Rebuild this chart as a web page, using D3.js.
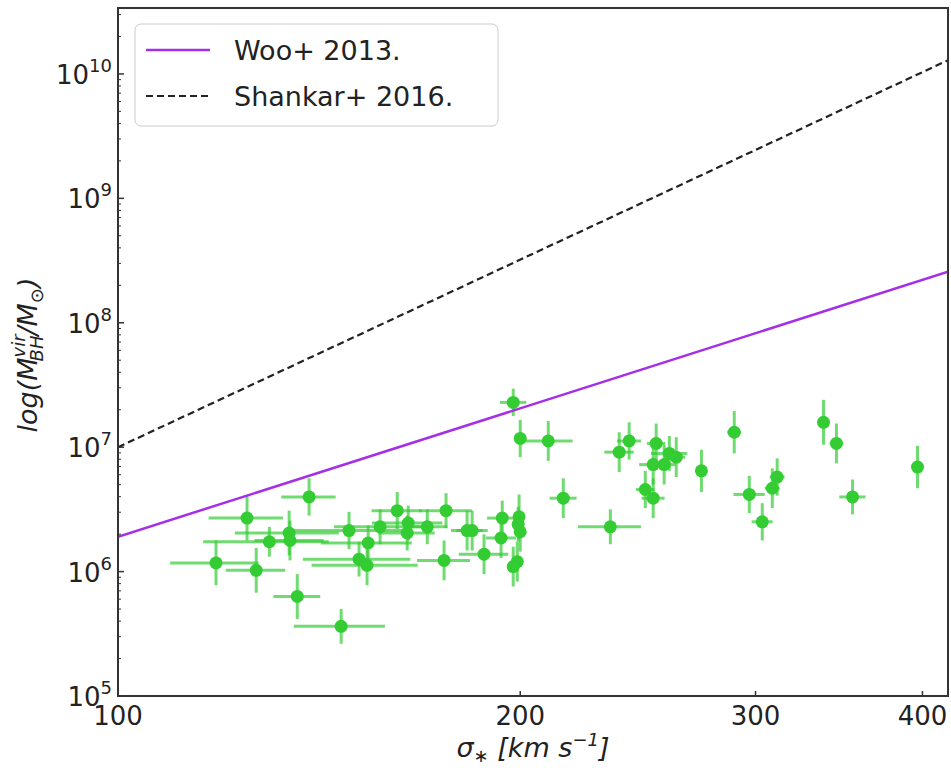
<!DOCTYPE html>
<html>
<head>
  <meta charset="utf-8">
  <script src="https://cdn.jsdelivr.net/npm/d3@7/dist/d3.min.js"></script>
  <style>
    body { margin: 0; background: #fff; font-family: "DejaVu Sans", sans-serif; }
  </style>
</head>
<body>
  <div id="chart"></div>
  <script>
    // measured velocity dispersion (km/s) and its error
    const sigma = [118.4, 124.9, 126.9, 129.8, 134.3, 134.5, 139.0, 136.2, 146.9, 148.9,
      153.9, 157.1, 151.5, 153.6, 161.8, 164.9, 164.6, 170.4, 176.0, 175.4,
      182.5, 184.1, 187.9, 193.9, 193.5, 199.6, 199.3, 200.0, 199.0, 197.6,
      197.6, 200.0, 209.9, 215.4, 233.6, 237.2, 241.3, 252.8, 251.5, 256.3,
      258.6, 261.7, 248.1, 251.5, 273.3, 289.2, 296.8, 303.5, 308.8, 311.4,
      337.3, 344.9, 354.6, 396.6];
    const sigmaErr = [9, 8, 6.5, 14, 12, 8, 6.5, 5.5, 11.5, 15,
      12, 12, 14, 14, 7, 10, 8, 6, 8, 8,
      5, 5, 8, 5, 5, 1.5, 2, 1.5, 2, 2,
      4.5, 1.5, 9, 5, 12.7, 6, 5, 4, 6, 5,
      8, 4, 4, 5, 2, 3.5, 8, 5.5, 4, 4,
      2, 4, 8, 2];
    // log10 of virial black hole mass and its error (dex)
    const logM = [6.07, 6.43, 6.01, 6.24, 6.31, 6.25, 6.60, 5.80, 5.56, 6.33,
      6.23, 6.36, 6.10, 6.05, 6.49, 6.39, 6.31, 6.36, 6.49, 6.09,
      6.33, 6.33, 6.14, 6.43, 6.27, 6.44, 6.38, 6.32, 6.08, 6.04,
      7.36, 7.07, 7.05, 6.59, 6.36, 6.96, 7.05, 7.03, 6.86, 6.86,
      6.95, 6.92, 6.66, 6.59, 6.81, 7.12, 6.62, 6.40, 6.67, 6.76,
      7.20, 7.03, 6.60, 6.84];
    const logMErr = [0.18, 0.18, 0.18, 0.12, 0.18, 0.16, 0.15, 0.18, 0.14, 0.15,
      0.14, 0.14, 0.14, 0.16, 0.15, 0.14, 0.14, 0.14, 0.14, 0.16,
      0.16, 0.16, 0.16, 0.14, 0.16, 0.18, 0.14, 0.16, 0.16, 0.16,
      0.11, 0.15, 0.16, 0.16, 0.14, 0.16, 0.15, 0.16, 0.16, 0.16,
      0.14, 0.16, 0.15, 0.16, 0.17, 0.17, 0.15, 0.15, 0.16, 0.15,
      0.18, 0.16, 0.14, 0.17];

    // relations, read at the two ends of the x range
    const relSigma = [100, 418];
    const wooLogM = [6.28, 8.41];
    const shankarLogM = [7.0, 10.11];

    const xTicks = [100, 200, 300, 400];
    const yDecades = [5, 6, 7, 8, 9, 10];

    const width = 951, height = 768;
    const mLeft = 118, mRight = 948, mTop = 8, mBottom = 696;

    const x = d3.scaleLog().domain([100, 418]).range([mLeft, mRight]);
    const y = d3.scaleLog().domain([1e5, Math.pow(10, 10.53)]).range([mBottom, mTop]);

    const svg = d3.select("#chart").append("svg")
      .attr("width", width)
      .attr("height", height);

    svg.append("clipPath").attr("id", "clip")
      .append("rect")
      .attr("x", mLeft).attr("y", mTop)
      .attr("width", mRight - mLeft).attr("height", mBottom - mTop);

    const plot = svg.append("g").attr("clip-path", "url(#clip)");

    const pts = sigma.map((s, i) => ({ s: s, se: sigmaErr[i], m: logM[i], me: logMErr[i] }));
    const green = "#33cc33";

    // error bars
    plot.selectAll("line.xerr")
      .data(pts)
      .join("line")
      .attr("class", "xerr")
      .attr("x1", d => x(d.s - d.se))
      .attr("x2", d => x(d.s + d.se))
      .attr("y1", d => y(Math.pow(10, d.m)))
      .attr("y2", d => y(Math.pow(10, d.m)))
      .attr("stroke", green).attr("stroke-opacity", 0.7).attr("stroke-width", 3);

    plot.selectAll("line.yerr")
      .data(pts)
      .join("line")
      .attr("class", "yerr")
      .attr("x1", d => x(d.s))
      .attr("x2", d => x(d.s))
      .attr("y1", d => y(Math.pow(10, d.m - d.me)))
      .attr("y2", d => y(Math.pow(10, d.m + d.me)))
      .attr("stroke", green).attr("stroke-opacity", 0.7).attr("stroke-width", 3);

    plot.selectAll("circle")
      .data(pts)
      .join("circle")
      .attr("cx", d => x(d.s))
      .attr("cy", d => y(Math.pow(10, d.m)))
      .attr("r", 6.5)
      .attr("fill", green);

    const line = d3.line()
      .x(d => x(d[0]))
      .y(d => y(Math.pow(10, d[1])));

    plot.append("path")
      .datum(relSigma.map((s, i) => [s, wooLogM[i]]))
      .attr("d", line)
      .attr("fill", "none")
      .attr("stroke", "#a52ee8")
      .attr("stroke-width", 2.5);

    plot.append("path")
      .datum(relSigma.map((s, i) => [s, shankarLogM[i]]))
      .attr("d", line)
      .attr("fill", "none")
      .attr("stroke", "#222")
      .attr("stroke-width", 2.2)
      .attr("stroke-dasharray", "7,4");

    // frame
    svg.append("rect")
      .attr("x", mLeft).attr("y", mTop)
      .attr("width", mRight - mLeft).attr("height", mBottom - mTop)
      .attr("fill", "none").attr("stroke", "#333").attr("stroke-width", 2);

    // y ticks: majors + minors (inward)
    const yMinor = [];
    yDecades.forEach(k => {
      for (let j = 2; j <= 9; j++) {
        const v = j * Math.pow(10, k);
        if (v < y.domain()[1]) yMinor.push(v);
      }
    });
    svg.selectAll("line.ymin")
      .data(yMinor)
      .join("line")
      .attr("class", "ymin")
      .attr("x1", mLeft).attr("x2", mLeft + 3)
      .attr("y1", d => y(d)).attr("y2", d => y(d))
      .attr("stroke", "#333").attr("stroke-width", 1);

    svg.selectAll("line.ymaj")
      .data(yDecades)
      .join("line")
      .attr("class", "ymaj")
      .attr("x1", mLeft).attr("x2", mLeft + 6)
      .attr("y1", d => y(Math.pow(10, d))).attr("y2", d => y(Math.pow(10, d)))
      .attr("stroke", "#333").attr("stroke-width", 1.5);

    const yLab = svg.selectAll("text.ylab")
      .data(yDecades)
      .join("text")
      .attr("class", "ylab")
      .attr("x", mLeft - 6)
      .attr("y", d => y(Math.pow(10, d)) + 10)
      .attr("text-anchor", "end")
      .attr("font-size", 26)
      .attr("fill", "#222");
    yLab.append("tspan").text("10");
    yLab.append("tspan").attr("font-size", 18).attr("dy", -12).text(d => d);

    // x ticks
    svg.selectAll("line.xtick")
      .data(xTicks)
      .join("line")
      .attr("class", "xtick")
      .attr("x1", d => x(d)).attr("x2", d => x(d))
      .attr("y1", mBottom).attr("y2", mBottom - 5)
      .attr("stroke", "#333").attr("stroke-width", 1.5);

    svg.selectAll("text.xlab")
      .data(xTicks)
      .join("text")
      .attr("class", "xlab")
      .attr("x", d => x(d))
      .attr("y", mBottom + 29)
      .attr("text-anchor", "middle")
      .attr("font-size", 26)
      .attr("fill", "#222")
      .text(d => d);

    // axis titles
    const xt = svg.append("text")
      .attr("x", (mLeft + mRight) / 2)
      .attr("y", 757)
      .attr("text-anchor", "middle")
      .attr("font-size", 27)
      .attr("font-style", "italic")
      .attr("fill", "#222");
    xt.append("tspan").text("σ");
    xt.append("tspan").attr("font-size", 18).attr("dy", 5).text("∗");
    xt.append("tspan").attr("dy", -5).text(" [km s");
    xt.append("tspan").attr("font-size", 18).attr("dy", -11).text("−1");
    xt.append("tspan").attr("dy", 11).text("]");

    const yt = svg.append("text")
      .attr("transform", "translate(37,355) rotate(-90)")
      .attr("text-anchor", "middle")
      .attr("font-size", 27)
      .attr("font-style", "italic")
      .attr("fill", "#222");
    yt.append("tspan").text("log(M");
    yt.append("tspan").attr("font-size", 18).attr("dy", -12).text("vir");
    yt.append("tspan").attr("font-size", 18).attr("dx", -27).attr("dy", 18).text("BH");
    yt.append("tspan").attr("dy", -6).text("/M");
    yt.append("tspan").attr("font-size", 18).attr("dy", 6).text("⊙");
    yt.append("tspan").attr("dy", -6).text(")");

    // legend
    const lg = svg.append("g");
    lg.append("rect")
      .attr("x", 135).attr("y", 24)
      .attr("width", 363).attr("height", 102)
      .attr("rx", 6)
      .attr("fill", "#fff").attr("fill-opacity", 0.8)
      .attr("stroke", "#ccc").attr("stroke-width", 1);
    const legendItems = [
      { label: "Woo+ 2013.", color: "#a52ee8", dash: null, w: 2.5 },
      { label: "Shankar+ 2016.", color: "#222", dash: "7,4", w: 2.2 }
    ];
    legendItems.forEach((it, i) => {
      const cy = 50 + i * 46;
      lg.append("line")
        .attr("x1", 146).attr("x2", 210)
        .attr("y1", cy).attr("y2", cy)
        .attr("stroke", it.color).attr("stroke-width", it.w)
        .attr("stroke-dasharray", it.dash);
      lg.append("text")
        .attr("x", 234).attr("y", cy + 10)
        .attr("font-size", 27)
        .attr("fill", "#222")
        .text(it.label);
    });
  </script>
</body>
</html>
